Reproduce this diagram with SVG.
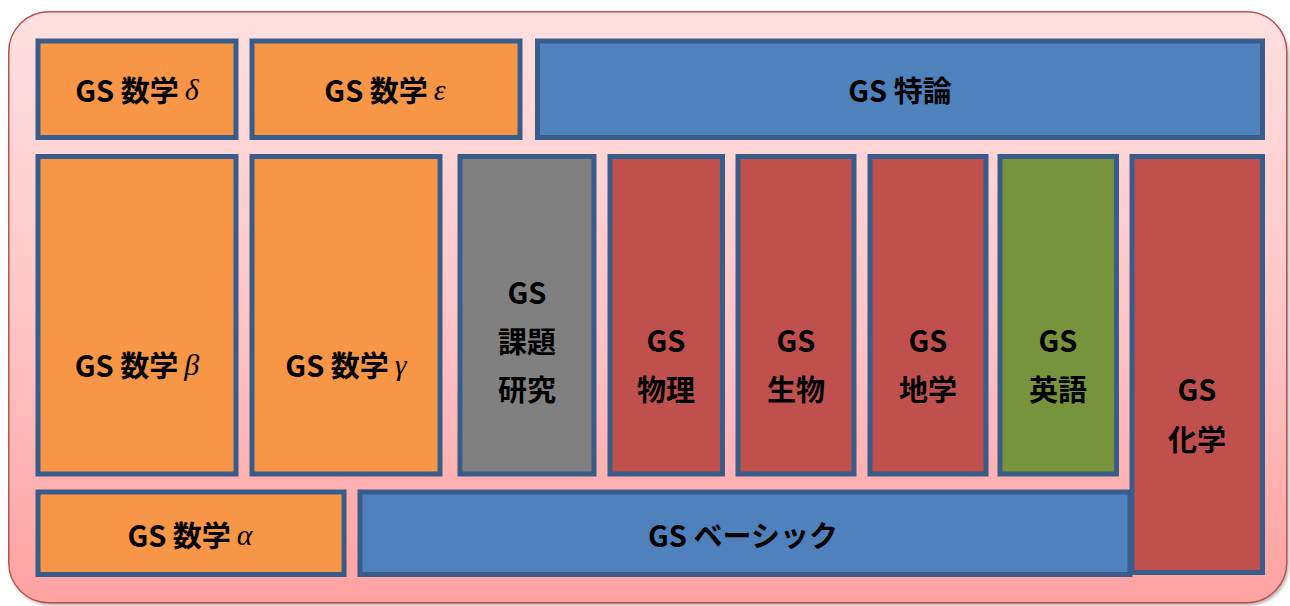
<svg xmlns="http://www.w3.org/2000/svg" width="1290" height="606" viewBox="0 0 1290 606">
<defs>
<linearGradient id="bg" x1="0" y1="0" x2="0" y2="1">
<stop offset="0" stop-color="#FFE0E0"/>
<stop offset="0.5" stop-color="#FFC6C6"/>
<stop offset="1" stop-color="#FFA2A2"/>
</linearGradient>
<filter id="blur" x="-5%" y="-5%" width="110%" height="110%"><feGaussianBlur stdDeviation="1.5"/></filter>
<style>
.box{stroke:#385D8A;stroke-width:5}
.or{fill:#F79646}
.bl{fill:#4F81BD}
.gy{fill:#808080}
.rd{fill:#C0504D}
.gn{fill:#77933C}
text{font-family:"Noto Sans CJK JP","Noto Sans",sans-serif;font-weight:700;font-size:29px;fill:#000;text-anchor:middle;dominant-baseline:central}
.gk{font-family:"Liberation Serif","DejaVu Serif",serif;font-style:italic;font-weight:400;font-size:30px}
</style>
</defs>
<g id="background">
<rect x="11" y="14.5" width="1278" height="591" rx="40" fill="#8a8a8a" opacity="0.6" filter="url(#blur)"/>
<rect x="8.75" y="11.75" width="1278" height="591" rx="40" fill="url(#bg)" stroke="#C0504D" stroke-width="1.5"/>
</g>
<g id="connectors"/>
<g id="n-delta"><rect class="box or" x="38" y="41" width="198" height="96.5"/><text x="137" y="89">GS 数学<tspan class="gk" dx="6">δ</tspan></text></g>
<g id="n-epsilon"><rect class="box or" x="252" y="41" width="268" height="96.5"/><text x="385" y="89">GS 数学<tspan class="gk" dx="6">ε</tspan></text></g>
<g id="n-tokuron"><rect class="box bl" x="537.5" y="41" width="725" height="96.5"/><text x="900" y="89">GS 特論</text></g>
<g id="n-beta"><rect class="box or" x="38" y="156.5" width="198" height="317.5"/><text x="137" y="364">GS 数学<tspan class="gk" dx="6">β</tspan></text></g>
<g id="n-gamma"><rect class="box or" x="252" y="156.5" width="188" height="317.5"/><text x="346" y="364">GS 数学<tspan class="gk" dx="6">γ</tspan></text></g>
<g id="n-kadai"><rect class="box gy" x="460" y="156.5" width="134" height="317.5"/><text x="527" y="291">GS</text><text x="527" y="340">課題</text><text x="527" y="388">研究</text></g>
<g id="n-butsuri"><rect class="box rd" x="610" y="156.5" width="112.5" height="317.5"/><text x="666" y="339">GS</text><text x="666" y="388">物理</text></g>
<g id="n-seibutsu"><rect class="box rd" x="738" y="156.5" width="116" height="317.5"/><text x="796" y="339">GS</text><text x="796" y="388">生物</text></g>
<g id="n-chigaku"><rect class="box rd" x="870" y="156.5" width="116" height="317.5"/><text x="928" y="339">GS</text><text x="928" y="388">地学</text></g>
<g id="n-eigo"><rect class="box gn" x="1000" y="156.5" width="116.5" height="317.5"/><text x="1058" y="339">GS</text><text x="1058" y="388">英語</text></g>
<g id="n-alpha"><rect class="box or" x="38" y="492" width="306" height="82.5"/><text x="190" y="534">GS 数学<tspan class="gk" dx="6">α</tspan></text></g>
<g id="n-basic"><rect class="box bl" x="360" y="492" width="770" height="82.5"/><text x="743" y="534">GS ベーシック</text></g>
<g id="n-kagaku"><rect class="box rd" x="1132" y="156.5" width="130.5" height="416"/><text x="1197" y="388">GS</text><text x="1197" y="438">化学</text></g>
</svg>
